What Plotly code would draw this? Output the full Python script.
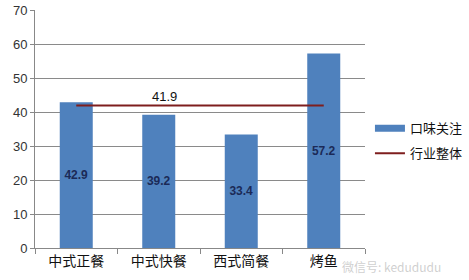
import plotly.graph_objects as go

categories = ["中式正餐", "中式快餐", "西式简餐", "烤鱼"]
taste_values = [42.9, 39.2, 33.4, 57.2]
industry_values = [41.9, 41.9, 41.9, 41.9]
industry_label = "41.9"
y_ticks = [0, 10, 20, 30, 40, 50, 60, 70]

fig = go.Figure()
fig.add_trace(go.Bar(
    x=categories, y=taste_values, name="口味关注", showlegend=False,
    marker=dict(color="#4F81BD", line=dict(width=0)),
    width=0.4,
    text=[f"{v:.1f}" for v in taste_values],
    textposition="inside", insidetextanchor="middle",
    textfont=dict(family="Liberation Sans, Arial", size=12, color="#1B2A57", weight="bold"),
    textangle=0,
))
# legend proxy for the bar series (wide patch as in the reference)
fig.add_trace(go.Scatter(
    x=[None], y=[None], name="口味关注", mode="lines", legendgroup="a",
    line=dict(color="#4F81BD", width=7),
))
fig.add_trace(go.Scatter(
    x=categories, y=industry_values, name="行业整体", mode="lines", legendgroup="b",
    line=dict(color="#7E1E1E", width=2),
))
fig.add_annotation(x=categories[1], y=industry_values[1], text=industry_label,
                   showarrow=False, yshift=9, xshift=6,
                   font=dict(family="Liberation Sans, Arial", size=13, color="#111111"))
fig.add_annotation(xref="paper", yref="paper", x=0.925, y=-0.035, xanchor="left", yanchor="top",
                   text="微信号: kedududu", showarrow=False,
                   font=dict(family="Noto Sans CJK SC", size=12, color="rgba(175,175,175,0.6)"))

fig.update_layout(
    width=469, height=280,
    margin=dict(l=35, r=104, t=10, b=32, autoexpand=False),
    paper_bgcolor="white", plot_bgcolor="white",
    bargap=0.6,
    font=dict(family="Noto Sans CJK SC, Liberation Sans", color="#222222"),
    legend=dict(x=1.015, y=0.45, xanchor="left", yanchor="middle",
                font=dict(family="Noto Sans CJK SC", size=13, color="#111111"),
                tracegroupgap=5, itemwidth=30),
    showlegend=True,
)
fig.update_xaxes(
    showline=True, linecolor="#888888", linewidth=1,
    ticks="outside", tickson="boundaries", ticklen=5, tickcolor="#888888",
    tickfont=dict(family="Noto Sans CJK SC", size=14, color="#111111"),
    showgrid=False,
)
fig.update_yaxes(
    range=[0, 70], tickvals=y_ticks,
    showline=True, linecolor="#888888", linewidth=1,
    ticks="outside", ticklen=4, tickcolor="#888888",
    gridcolor="#8A8A8A", gridwidth=1,
    tickfont=dict(family="Liberation Sans, Arial", size=13, color="#333333"),
    zeroline=False,
)
fig.write_html("out.html")
